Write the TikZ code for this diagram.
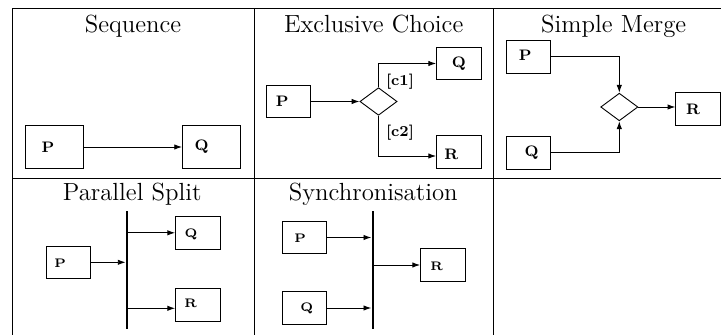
\documentclass[tikz,border=0pt]{standalone}
\usetikzlibrary{shapes.geometric,arrows.meta}
\begin{document}
\begin{tikzpicture}[x=0.5pt,y=-0.5pt,
  rule/.style={line width=0.5pt},
  ttl/.style={anchor=base,inner sep=0pt,font=\fontsize{12.4pt}{15pt}\selectfont},
  bigbox/.style={draw,line width=0.45pt,minimum width=29pt,minimum height=21.7pt,inner sep=0pt},
  smallbox/.style={draw,line width=0.45pt,minimum width=22.2pt,minimum height=16.3pt,inner sep=0pt},
  lblA/.style={inner sep=0pt,font=\fontsize{7.6pt}{9pt}\selectfont\bfseries},
  lblB/.style={inner sep=0pt,font=\fontsize{6.2pt}{7.5pt}\selectfont\bfseries},
  gate/.style={draw,line width=0.45pt,diamond,minimum width=18.6pt,minimum height=13.8pt,inner sep=0pt},
  barnode/.style={fill,minimum width=1pt,minimum height=59pt,inner sep=0pt},
  flow/.style={line width=0.45pt,-{Latex[length=3.9pt,width=2.7pt]}},
]
\useasboundingbox (0,0) rectangle (721,335);

% table grid
\draw[rule] (12,335) -- (12,9) -- (721,9);
\draw[rule] (12,178.3) -- (721,178.3);
\draw[rule] (254,9) -- (254,335);
\draw[rule] (493.3,9) -- (493.3,335);

% Sequence
\node[ttl] (tSeq) at (133,33) {Sequence};
\node[bigbox,label={[lblA,xshift=-3pt]center:P}] (sP) at (54,147) {};
\node[bigbox,label={[lblA,xshift=-5pt]center:Q}] (sQ) at (211.5,147) {};
\draw[flow] (sP) -- (sQ);

% Exclusive choice
\node[ttl] (tXor) at (373.7,32.5) {Exclusive Choice};
\node[smallbox,label={[lblA,xshift=-3.2pt]center:P}] (xP) at (288.7,101.5) {};
\node[gate] (xD) at (378.5,101.5) {};
\node[smallbox,label={[lblA]center:Q}] (xQ) at (458.8,63.5) {};
\node[smallbox,label={[lblA,xshift=-3.7pt,yshift=-1.2pt]center:R}] (xR) at (458.8,152.2) {};
\coordinate (xRin) at ([yshift=-1.9pt]xR.west);
\draw[flow] (xP) -- (xD);
\draw[flow] (xD.north) |- (xQ);
\draw[flow] (xD.south) |- (xRin);
\node[lblA] (xc1) at (400,81.7) {[c1]};
\node[lblA] (xc2) at (400,132.7) {[c2]};

% Simple merge
\node[ttl] (tMerge) at (613.7,32.5) {Simple Merge};
\node[smallbox,label={[lblA,xshift=-1.6pt,yshift=1pt]center:P}] (mP) at (528.3,56.8) {};
\node[smallbox,label={[lblA,xshift=1.7pt]center:Q}] (mQ) at (528.3,152.7) {};
\node[gate] (mD) at (619.3,107) {};
\node[smallbox,label={[lblA,xshift=-2.5pt,yshift=-0.4pt]center:R}] (mR) at (698,108.8) {};
\draw[flow] (mP) -| (mD.north);
\draw[flow] (mQ) -| (mD.south);
\draw[flow] (mD) -- (mD -| mR.west);

% Parallel split
\node[ttl] (tSplit) at (132.2,200.5) {Parallel Split};
\node[smallbox,label={[lblB,xshift=-4.1pt,yshift=-0.7pt]center:P}] (pP) at (68.3,262.3) {};
\node[barnode] (pBar) at (127,270) {};
\node[smallbox,label={[lblB,xshift=-3.4pt,yshift=-0.7pt]center:Q}] (pQ) at (197.8,232.8) {};
\node[smallbox,label={[lblB,xshift=-3.5pt,yshift=0.7pt]center:R}] (pR) at (197.8,304.7) {};
\coordinate (pRin) at ([yshift=-1.8pt]pR.west);
\draw[flow] (pP) -- (pP -| pBar.west);
\draw[flow] (pBar.east |- pQ) -- (pQ);
\draw[flow] (pBar.east |- pRin) -- (pRin);

% Synchronisation
\node[ttl] (tSync) at (373.3,200.5) {Synchronisation};
\node[smallbox,label={[lblB,xshift=-2.2pt,yshift=-0.5pt]center:P}] (yP) at (304.5,237.5) {};
\node[smallbox,label={[lblB,xshift=1.1pt]center:Q}] (yQ) at (304.5,308) {};
\node[barnode] (yBar) at (372.7,270) {};
\node[smallbox,label={[lblB,xshift=-3pt,yshift=-0.6pt]center:R}] (yR) at (442.8,265) {};
\draw[flow] (yP) -- (yP -| yBar.west);
\draw[flow] (yQ) -- (yQ -| yBar.west);
\draw[flow] (yBar.east |- yR) -- (yR);
\end{tikzpicture}
\end{document}
